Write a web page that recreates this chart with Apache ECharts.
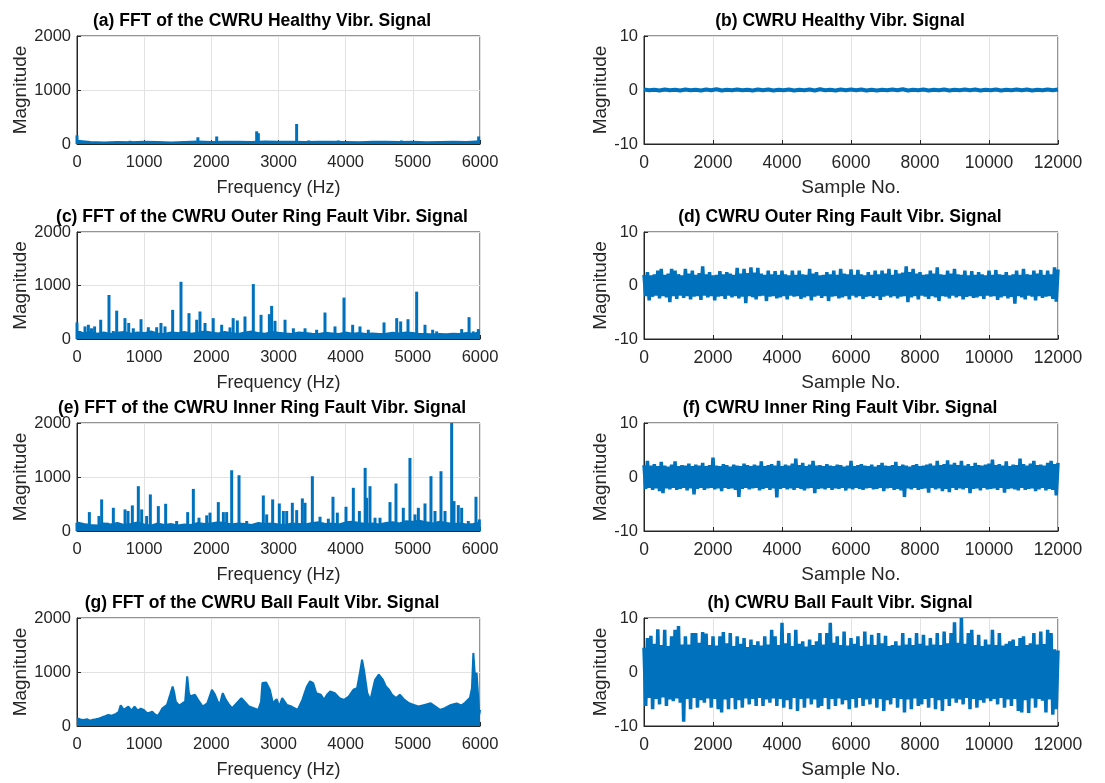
<!DOCTYPE html>
<html><head><meta charset="utf-8">
<script src="https://cdn.jsdelivr.net/npm/echarts@6/dist/echarts.min.js"></script>
<style>html,body{margin:0;padding:0;background:#fff}#c{width:1105px;height:783px}</style>
</head><body><div id="c"></div>
<script>
// ---------- titles ----------
const panelTitles = [
  '(a) FFT of the CWRU Healthy Vibr. Signal',
  '(b) CWRU Healthy Vibr. Signal',
  '(c) FFT of the CWRU Outer Ring Fault Vibr. Signal',
  '(d) CWRU Outer Ring Fault Vibr. Signal',
  '(e) FFT of the CWRU Inner Ring Fault Vibr. Signal',
  '(f) CWRU Inner Ring Fault Vibr. Signal',
  '(g) FFT of the CWRU Ball Fault Vibr. Signal',
  '(h) CWRU Ball Fault Vibr. Signal'
];
const freqAxisName = 'Frequency (Hz)';
const sampleAxisName = 'Sample No.';
const magAxisName = 'Magnitude';

// ---------- FFT data (Hz, magnitude) ----------
const healthyFftFloorStep = 200;
const healthyFftFloor = [60,35,30,38,32,40,36,30,38,45,36,40,42,38,45,42,40,36,42,40,36,32,40,42,36,40,32,36,40,36,50];
const healthyFftPeaks = [[0,160],[790,60],[815,50],[1000,35],[1250,25],[1600,30],[1800,125],[2080,140],[2250,45],[2400,50],[2675,235],[2700,200],[3000,45],[3060,55],[3240,50],[3270,370],[3450,65],[3600,30],[3890,65],[4330,35],[4830,65],[4880,45],[5180,30],[5450,30],[5980,140]];

const outerFftFloorStep = 100;
const outerFftFloor = [140,110,130,100,120,95,115,130,100,120,110,140,105,95,120,110,130,100,115,140,120,105,130,110,95,120,140,110,100,130,115,105,95,120,110,100,95,115,105,95,120,100,110,95,105,95,100,115,105,120,110,95,95,85,95,90,100,95,110,95,130];
const outerFftPeaks = [[0,310],[40,150],[119,235],[169,266],[215,200],[262,235],[353,360],[476,823],[540,150],[591,530],[714,390],[770,300],[838,200],[953,370],[1062,220],[1186,220],[1250,300],[1310,235],[1424,545],[1548,1070],[1667,483],[1782,360],[1831,514],[1906,300],[2028,390],[2154,266],[2278,217],[2325,390],[2387,347],[2501,421],[2625,1027],[2740,452],[2864,464],[2898,619],[2948,340],[3097,360],[3221,200],[3395,200],[3568,173],[3692,495],[3841,235],[3975,774],[4104,266],[4213,235],[4337,173],[4571,310],[4760,390],[4819,328],[4928,370],[5057,885],[5181,266],[5295,173],[5355,142],[5727,186],[5837,408],[5900,142],[5975,186]];

const innerFftFloorStep = 100;
const innerFftFloor = [160,130,110,100,140,120,150,110,130,160,120,100,140,110,130,100,120,110,150,130,140,160,150,120,140,130,110,150,130,140,120,110,140,130,120,150,160,130,140,120,160,170,150,130,140,120,150,160,140,180,170,190,160,140,170,150,130,140,120,130,160];
const innerFftPeaks = [[0,154],[184,350],[327,277],[367,585],[451,154],[541,430],[715,400],[760,370],[824,474],[913,830],[963,400],[1037,277],[1092,677],[1211,461],[1320,504],[1484,185],[1648,350],[1732,780],[1816,246],[1931,290],[1980,340],[2104,535],[2179,350],[2228,350],[2303,1125],[2412,1033],[2526,185],[2774,658],[2824,307],[2913,585],[3012,510],[3072,370],[3122,370],[3206,523],[3271,387],[3355,603],[3395,523],[3504,1015],[3618,264],[3742,228],[3811,634],[3876,340],[4005,449],[4114,800],[4204,370],[4290,1169],[4313,615],[4362,830],[4437,246],[4511,246],[4660,535],[4749,880],[4858,430],[4957,1353],[5032,307],[5082,430],[5181,510],[5270,1015],[5330,370],[5419,1107],[5479,370],[5578,2000],[5613,554],[5677,480],[5727,430],[5826,185],[5940,634],[5990,215]];

const ballFftEnvelope = [[0,143],[50,120],[97,112],[150,125],[189,99],[240,118],[281,124],[330,140],[373,161],[420,180],[465,205],[520,190],[581,224],[620,260],[650,385],[696,298],[765,360],[811,286],[857,360],[903,286],[950,320],[995,298],[1030,250],[1064,236],[1120,267],[1160,215],[1203,186],[1240,260],[1272,329],[1341,391],[1387,578],[1424,733],[1450,600],[1470,453],[1520,380],[1571,422],[1610,450],[1641,919],[1665,620],[1686,547],[1756,578],[1802,484],[1871,360],[1940,422],[2009,671],[2055,578],[2090,470],[2124,391],[2170,609],[2216,484],[2260,400],[2309,329],[2378,422],[2447,516],[2493,453],[2562,360],[2631,329],[2700,298],[2740,450],[2760,795],[2816,807],[2871,671],[2917,422],[2972,497],[3009,360],[3055,516],[3124,391],[3194,360],[3286,298],[3355,484],[3424,733],[3470,826],[3516,795],[3562,609],[3631,578],[3677,484],[3723,578],[3770,640],[3839,609],[3908,516],[3977,484],[4046,547],[4115,671],[4170,702],[4216,1012],[4244,1230],[4276,1012],[4322,609],[4368,484],[4438,857],[4493,950],[4553,857],[4599,733],[4645,671],[4691,578],[4750,520],[4806,578],[4875,484],[4945,422],[5014,391],[5083,360],[5175,391],[5267,422],[5336,360],[5405,298],[5475,329],[5567,391],[5653,418],[5720,380],[5777,430],[5851,523],[5880,700],[5901,1353],[5925,900],[5950,984],[5975,500],[5990,215],[6000,300]];

// ---------- time-domain envelopes (upper / lower extremes per block) ----------
const healthyStep = 300;
const healthyUpper = [0.1,0.05,0.1,0.05,0.1,0.05,0.1,0.15,0.05,0.1,0.05,0.1,0.1,0.05,0.1,0.05,0.1,0.15,0.05,0.1,0.1,0.1,0.05,0.05,0.1,0.15,0.05,0.1,0.05,0.1,0.05,0.1,0.1,0.05,0.1,0.05,0.1,0.1,0.05,0.1,0.1];
const healthyLower = [-0.05,-0.1,-0.05,-0.1,-0.05,-0.1,-0.05,-0.1,-0.05,-0.05,-0.1,-0.05,-0.1,-0.05,-0.1,-0.05,-0.1,-0.05,-0.1,-0.05,-0.05,-0.1,-0.1,-0.05,-0.05,-0.1,-0.05,-0.1,-0.05,-0.1,-0.05,-0.05,-0.1,-0.05,-0.1,-0.05,-0.05,-0.1,-0.05,-0.05];

const faultStep = 100;
const outerUpper = [2.0,2.5,1.9,2.1,2.8,3.1,2.0,2.2,3.1,2.8,2.1,1.9,3.1,2.2,2.8,2.0,2.3,3.6,2.1,2.5,1.9,2.0,2.7,2.1,2.5,2.2,2.0,3.3,2.2,3.1,2.3,3.4,2.4,3.3,2.2,2.0,2.8,2.1,2.7,2.0,2.8,2.1,1.9,2.8,2.0,2.8,2.1,2.0,3.1,2.2,2.5,1.9,2.0,2.5,2.1,2.8,2.0,3.1,2.2,2.1,3.0,2.0,2.9,2.1,1.9,2.5,2.0,2.8,2.1,2.8,2.2,3.1,2.0,2.9,2.2,2.4,3.6,2.5,3.1,2.2,2.5,2.0,2.1,2.8,2.2,3.4,2.1,2.0,2.8,2.2,3.1,2.1,2.0,2.8,1.9,2.7,2.0,2.5,2.1,1.9,2.8,2.0,2.9,2.1,2.0,2.5,1.9,2.1,2.8,2.0,3.1,2.1,2.0,2.8,2.2,2.9,2.0,2.8,2.1,3.4,3.0];
const outerLower = [-2.0,-2.8,-2.1,-1.9,-2.4,-2.0,-2.2,-3.1,-2.0,-2.5,-1.9,-2.3,-2.0,-2.6,-2.1,-2.0,-2.7,-1.9,-2.2,-2.0,-2.8,-2.1,-2.0,-2.5,-1.9,-2.2,-2.0,-2.4,-2.1,-3.3,-2.0,-2.2,-2.6,-2.0,-1.9,-2.9,-2.1,-2.0,-2.4,-2.2,-2.0,-2.6,-1.9,-2.1,-2.0,-2.5,-2.2,-2.0,-2.8,-2.1,-1.9,-2.3,-2.0,-2.9,-2.1,-2.0,-2.4,-2.2,-2.0,-2.6,-1.9,-2.2,-2.0,-2.5,-2.1,-2.0,-2.3,-2.0,-2.7,-2.1,-1.9,-2.2,-2.0,-2.4,-2.1,-2.0,-3.1,-2.2,-2.0,-2.6,-1.9,-2.1,-2.5,-2.0,-2.2,-2.9,-2.0,-2.1,-2.4,-1.9,-2.2,-2.0,-2.6,-2.1,-2.0,-2.3,-2.2,-2.0,-2.5,-1.9,-2.1,-2.0,-2.7,-2.2,-2.0,-2.4,-2.1,-3.4,-2.0,-2.2,-2.6,-1.9,-2.1,-2.8,-2.0,-2.3,-2.1,-2.0,-2.5,-3.0];

const innerUpper = [2.2,3.0,2.1,2.4,2.0,2.8,2.1,1.9,2.3,2.9,2.0,2.2,2.1,2.5,2.0,2.3,2.1,2.6,2.0,2.2,3.6,2.1,2.0,2.4,2.2,1.9,2.3,2.1,2.0,2.5,2.2,2.0,2.3,2.1,2.9,2.0,2.2,2.4,2.1,3.0,2.0,2.3,2.1,2.5,3.4,2.2,2.6,2.0,2.3,3.0,2.1,2.2,2.0,2.4,2.1,2.0,2.3,2.2,1.9,2.1,3.0,2.0,2.2,2.4,2.1,2.0,2.3,1.9,2.2,2.6,2.1,2.0,2.2,2.8,2.0,2.3,2.1,1.9,2.2,2.4,2.0,2.1,2.3,2.5,2.1,3.0,2.2,2.4,3.1,2.3,2.6,2.2,3.0,2.1,2.4,2.0,2.6,2.2,2.1,2.3,2.5,3.2,2.2,2.4,2.1,2.9,2.0,2.3,2.2,3.4,2.4,2.1,2.5,3.0,2.2,2.3,2.1,2.6,3.0,2.4,2.6];
const innerLower = [-2.2,-2.0,-2.4,-2.1,-2.6,-3.0,-2.1,-2.3,-2.0,-2.4,-2.2,-2.0,-2.5,-2.1,-3.2,-2.2,-2.0,-2.4,-2.1,-2.0,-2.3,-2.1,-2.6,-2.0,-2.2,-2.1,-2.4,-3.7,-2.2,-2.0,-2.3,-2.1,-2.0,-2.5,-2.2,-2.0,-2.4,-2.1,-3.8,-2.2,-2.0,-2.3,-2.1,-2.4,-2.0,-2.2,-2.5,-2.1,-2.0,-3.0,-2.2,-2.1,-2.3,-2.0,-2.4,-2.1,-2.2,-2.0,-2.5,-2.1,-2.3,-2.0,-2.2,-2.4,-2.1,-2.0,-2.3,-2.2,-2.0,-2.6,-2.1,-2.0,-2.4,-2.2,-2.5,-3.7,-2.1,-2.3,-2.0,-2.4,-2.2,-2.1,-2.9,-2.0,-2.3,-2.1,-2.6,-2.2,-2.8,-2.0,-2.4,-2.1,-2.3,-2.0,-3.0,-2.2,-2.1,-2.5,-2.0,-2.3,-2.2,-2.1,-2.4,-2.0,-2.9,-2.2,-2.1,-2.3,-2.5,-2.0,-2.4,-2.2,-2.1,-2.6,-2.3,-2.0,-2.5,-2.2,-2.4,-3.4];

const ballUpper = [4.5,6.3,6.7,5.2,7.9,5.0,7.8,4.8,6.6,7.8,8.5,5.1,6.6,5.1,7.2,7.2,5.4,7.4,7.1,5.0,6.6,4.9,6.6,7.4,5.3,7.2,4.8,6.6,5.2,6.3,4.6,6.0,5.0,5.7,4.9,6.6,5.1,7.8,6.6,5.0,9.1,5.3,7.2,4.8,7.8,5.2,5.7,4.7,6.0,5.0,5.7,7.2,5.1,7.2,9.1,5.4,6.6,5.0,7.5,4.9,6.3,5.2,6.6,4.8,7.5,5.1,6.9,5.0,7.2,5.3,6.7,4.8,5.0,5.7,4.9,7.2,5.1,6.3,5.0,7.2,5.2,6.9,4.9,6.3,5.1,7.2,5.0,7.5,5.3,7.2,9.2,5.4,10.0,5.2,7.2,7.8,5.0,6.9,4.8,6.0,5.1,7.8,5.0,7.2,4.9,5.2,5.7,6.0,4.8,6.3,6.6,5.0,5.3,7.2,5.1,7.5,5.2,7.8,7.2,4.2,4.0];
const ballLower = [-6.3,-4.8,-6.9,-5.0,-6.0,-4.7,-6.3,-5.1,-5.4,-4.9,-5.7,-9.2,-5.0,-6.9,-4.8,-6.6,-5.2,-5.7,-4.9,-6.6,-5.0,-6.9,-7.5,-5.1,-6.9,-4.8,-6.9,-5.2,-6.6,-4.9,-6.0,-5.0,-6.3,-4.8,-6.3,-5.1,-5.7,-4.9,-6.3,-5.0,-6.6,-5.2,-6.9,-4.8,-7.2,-5.0,-6.6,-4.9,-6.0,-5.1,-6.6,-6.3,-4.8,-6.9,-5.0,-6.3,-4.9,-6.0,-5.2,-6.9,-5.0,-6.6,-4.8,-6.3,-5.1,-6.0,-4.9,-6.6,-5.0,-7.2,-5.2,-6.0,-4.8,-6.6,-5.0,-7.5,-5.1,-6.9,-4.9,-6.3,-6.0,-5.0,-6.6,-4.8,-6.9,-5.2,-7.2,-5.0,-6.3,-4.9,-5.7,-5.1,-6.0,-4.8,-6.9,-5.0,-6.6,-5.2,-5.7,-4.9,-5.4,-5.0,-6.0,-4.8,-6.6,-5.1,-6.3,-5.0,-7.2,-7.5,-5.2,-7.6,-4.9,-6.6,-5.0,-5.3,-7.5,-5.1,-7.9,-6.9];

// ---------- layout / style ----------
const C = '#0072BD';
const INK = '#262626';
const FONT = '"Liberation Sans", Arial, Helvetica, sans-serif';
const rowTops = [36, 232, 423, 618];
const rowBottoms = [144, 339, 531, 726];
const colLeft = [77, 644];
const colWidth = [403, 414];
const titleCenters = [262, 840];
const xLabelSize = [16.5, 17.5];
const xNameSize = [18, 19];
const xNameGap = [35, 34];
const yNameGap = [47, 34];

function stepSeries(values, step) {
  return values.map((v, i) => [i * step, v]);
}
// upper extremes at block starts, lower extremes at block middles
function zigzag(up, lo, step) {
  const out = [];
  for (let i = 0; i < up.length; i++) {
    out.push([i * step, up[i]]);
    if (i < lo.length) out.push([i * step + step / 2, lo[i]]);
  }
  return out;
}
const plainNum = v => String(v);

const grids = [], xAxes = [], yAxes = [], titles = [];
for (let r = 0; r < 4; r++) {
  for (let c = 0; c < 2; c++) {
    const gi = r * 2 + c;
    const isFreq = c === 0;
    grids.push({left: colLeft[c], width: colWidth[c], top: rowTops[r], height: rowBottoms[r] - rowTops[r],
      show: true, borderColor: INK, borderWidth: 1, backgroundColor: 'transparent'});
    xAxes.push({gridIndex: gi, type: 'value', min: 0, max: isFreq ? 6000 : 12000, interval: isFreq ? 1000 : 2000,
      name: isFreq ? freqAxisName : sampleAxisName, nameLocation: 'middle', nameGap: xNameGap[c],
      nameTextStyle: {fontSize: xNameSize[c], color: INK, fontFamily: FONT},
      axisLine: {show: true, onZero: false, lineStyle: {color: INK, width: 1}},
      axisTick: {show: true, inside: true, length: 4, lineStyle: {color: INK}},
      axisLabel: {fontSize: xLabelSize[c], color: INK, fontFamily: FONT, margin: 10, formatter: plainNum},
      splitLine: {show: true, lineStyle: {color: '#e2e2e2', width: 1}}});
    yAxes.push({gridIndex: gi, type: 'value', min: isFreq ? 0 : -10, max: isFreq ? 2000 : 10, interval: isFreq ? 1000 : 10,
      name: magAxisName, nameLocation: 'middle', nameGap: yNameGap[c],
      nameTextStyle: {fontSize: 19, color: INK, fontFamily: FONT},
      axisLine: {show: true, onZero: false, lineStyle: {color: INK, width: 1}},
      axisTick: {show: true, inside: true, length: 4, lineStyle: {color: INK}},
      axisLabel: {fontSize: 16.5, color: INK, fontFamily: FONT, margin: 6, formatter: plainNum},
      splitLine: {show: true, lineStyle: {color: '#e2e2e2', width: 1}}});
    titles.push({text: panelTitles[gi], left: titleCenters[c], top: rowTops[r] - 24, textAlign: 'center', padding: 0,
      textStyle: {fontSize: 17.5, fontWeight: 'bold', color: '#000', fontFamily: FONT}});
  }
}

function floorSeries(gi, data, w) {
  return {type: 'line', xAxisIndex: gi, yAxisIndex: gi, data: data, showSymbol: false, silent: true,
    lineStyle: {color: C, width: w}, areaStyle: {color: C, opacity: 1}, z: 3};
}
function peakSeries(gi, data) {
  return {type: 'bar', xAxisIndex: gi, yAxisIndex: gi, data: data, barWidth: 3, silent: true,
    itemStyle: {color: C}, z: 4};
}
function waveSeries(gi, data, w) {
  return {type: 'line', xAxisIndex: gi, yAxisIndex: gi, data: data, showSymbol: false, silent: true,
    lineStyle: {color: C, width: w, join: 'bevel'}, z: 3};
}

const series = [
  floorSeries(0, stepSeries(healthyFftFloor, healthyFftFloorStep), 2),
  peakSeries(0, healthyFftPeaks),
  waveSeries(1, zigzag(healthyUpper, healthyLower, healthyStep), 4),
  floorSeries(2, stepSeries(outerFftFloor, outerFftFloorStep), 2),
  peakSeries(2, outerFftPeaks),
  waveSeries(3, zigzag(outerUpper, outerLower, faultStep), 3.5),
  floorSeries(4, stepSeries(innerFftFloor, innerFftFloorStep), 2),
  peakSeries(4, innerFftPeaks),
  waveSeries(5, zigzag(innerUpper, innerLower, faultStep), 3.5),
  floorSeries(6, ballFftEnvelope, 2),
  waveSeries(7, zigzag(ballUpper, ballLower, faultStep), 3.5)
];

const chart = echarts.init(document.getElementById('c'), null, {renderer: 'canvas'});
chart.setOption({animation: false, backgroundColor: '#fff', title: titles, grid: grids, xAxis: xAxes, yAxis: yAxes, series: series});
</script>
</body></html>
